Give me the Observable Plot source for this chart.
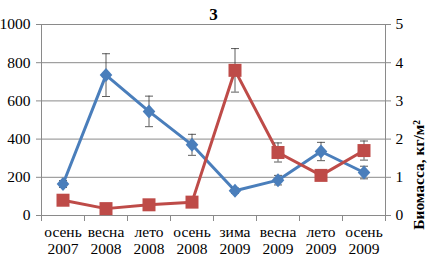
<!DOCTYPE html>
<html><head><meta charset="utf-8">
<script src="https://cdn.jsdelivr.net/npm/d3@7"></script>
<script src="https://cdn.jsdelivr.net/npm/@observablehq/plot@0.6"></script>
<style>body{margin:0;background:#fff}</style>
</head><body><div id="chart"></div>
<script>
const categories = ["осень\n2007","весна\n2008","лето\n2008","осень\n2008","зима\n2009","весна\n2009","лето\n2009","осень\n2009"];
const abundance = [165, 735, 545, 370, 130, 185, 335, 225];
const abundanceErr = [18, 112, 80, 55, 14, 25, 48, 33];
const biomass = [0.40, 0.18, 0.28, 0.35, 3.80, 1.65, 1.05, 1.70];
const biomassErr = [0.03, 0.02, 0.03, 0.03, 0.57, 0.25, 0.05, 0.25];
const leftTicks = [0, 200, 400, 600, 800, 1000];
const rightTicks = [0, 1, 2, 3, 4, 5];
const ratio = 200; // left units per right unit

const blue = "#4A7EBB", red = "#BE4B48";
const A = abundance.map((v,i)=>({x:i+0.5, y:v, lo:v-abundanceErr[i], hi:v+abundanceErr[i]}));
const B = biomass.map((v,i)=>({x:i+0.5, y:v*ratio, lo:(v-biomassErr[i])*ratio, hi:(v+biomassErr[i])*ratio}));
const diamond = {draw(ctx, size){const r=7; ctx.moveTo(0,-r); ctx.lineTo(r*0.9,0); ctx.lineTo(0,r); ctx.lineTo(-r*0.9,0); ctx.closePath();}};
const square = {draw(ctx, size){const r=6.5; ctx.rect(-r,-r,2*r,2*r);}};
const cap = {draw(ctx, size){ctx.moveTo(-4,0); ctx.lineTo(4,0);}};
const font = "'Liberation Serif', 'Times New Roman', 'DejaVu Serif', serif";

const chart = Plot.plot({
  width: 430, height: 257,
  marginLeft: 41, marginRight: 45, marginTop: 24, marginBottom: 42,
  style: {fontFamily: font, fontSize: "15px", color: "#000", background: "#fff"},
  x: {domain: [0, 8], axis: null},
  y: {domain: [0, 1000], axis: null},
  marks: [
    Plot.ruleY(leftTicks.filter(d=>d>0), {stroke: "#8a8a8a", strokeWidth: 1}),
    Plot.ruleY([0], {stroke: "#8a8a8a"}),
    Plot.ruleX([0, 8], {stroke: "#8a8a8a"}),
    Plot.axisY({ticks: leftTicks, tickFormat: d=>String(d), anchor: "left", tickSize: 5, tickPadding: 6, stroke: "#8a8a8a", fill: "#000", fontSize: 15.5, label: null}),
    Plot.axisY({ticks: rightTicks.map(d=>d*ratio), tickFormat: d=>String(d/ratio), anchor: "right", tickSize: 5, tickPadding: 5, stroke: "#8a8a8a", fill: "#000", fontSize: 15.5, label: null}),
    Plot.axisX({ticks: d3.range(0, 9), tickFormat: ()=>"", tickSize: 6, stroke:"#8a8a8a", label: null}),
    Plot.axisX({ticks: categories.map((c,i)=>i+0.5), tickFormat: (d)=>categories[Math.round(d-0.5)], tickSize: 0, tickPadding: 9, fontSize: 15.5, lineHeight: 1.1, fill: "#000", label: null}),
    Plot.text(["3"], {frameAnchor: "top", dy: -17, fontWeight: "bold", fontSize: 17}),
    Plot.text(["Биомасса, кг/м²"], {frameAnchor: "right", dx: 34, rotate: -90, fontWeight: "bold", fontSize: 15.5}),
    Plot.line(A, {x:"x", y:"y", stroke: blue, strokeWidth: 3}),
    Plot.line(B, {x:"x", y:"y", stroke: red, strokeWidth: 3}),
    Plot.ruleX(A, {x:"x", y1:"lo", y2:"hi", stroke:"#333", strokeWidth: 0.8}),
    Plot.ruleX(B, {x:"x", y1:"lo", y2:"hi", stroke:"#333", strokeWidth: 0.8}),
    Plot.dot(A, {x:"x", y:"lo", symbol: cap, stroke:"#333", strokeWidth: 0.8}),
    Plot.dot(A, {x:"x", y:"hi", symbol: cap, stroke:"#333", strokeWidth: 0.8}),
    Plot.dot(B, {x:"x", y:"lo", symbol: cap, stroke:"#333", strokeWidth: 0.8}),
    Plot.dot(B, {x:"x", y:"hi", symbol: cap, stroke:"#333", strokeWidth: 0.8}),
    Plot.dot(A, {x:"x", y:"y", symbol: diamond, fill: blue, stroke: "none"}),
    Plot.dot(B, {x:"x", y:"y", symbol: square, fill: red, stroke: "none"})
  ]
});
d3.select(chart).selectAll("text").style("font-family", font).style("font-variant", "normal");
document.getElementById("chart").appendChild(chart);
</script></body></html>
